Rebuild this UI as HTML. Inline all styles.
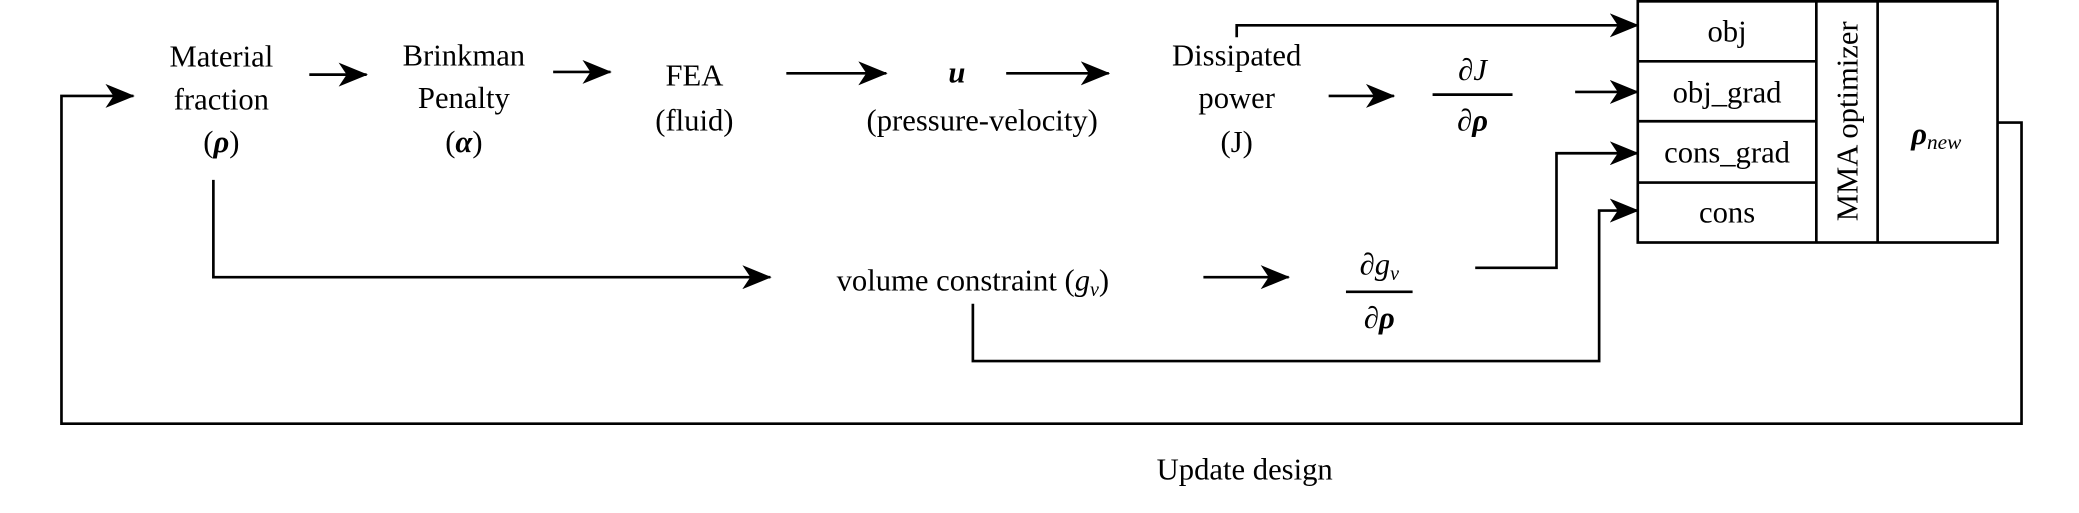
<!DOCTYPE html>
<html><head><meta charset="utf-8"><style>
html,body{margin:0;padding:0;background:#fff;}
svg{display:block;}
svg text{font-family:"Liberation Serif","Times New Roman","DejaVu Serif",serif;font-size:23px;fill:#000;}
</style></head><body>
<svg width="2079" height="513" viewBox="0 0 1560 385" xmlns="http://www.w3.org/2000/svg" font-family="Liberation Serif, Times New Roman, serif">
<defs>
<marker id="b" markerWidth="22" markerHeight="18" refX="21" refY="9" orient="auto" markerUnits="userSpaceOnUse"><path d="M0,0 L22,9 L0,18 L6,9 Z" fill="#000"/></marker></defs>
<g stroke="#000" stroke-width="2" fill="none">
<polyline points="1499,92 1517,92 1517,318 46,318 46,72 100,72" marker-end="url(#b)"/>
<line x1="232" y1="56" x2="275" y2="56" marker-end="url(#b)"/>
<line x1="415" y1="54" x2="458" y2="54" marker-end="url(#b)"/>
<line x1="590" y1="55" x2="665" y2="55" marker-end="url(#b)"/>
<line x1="755" y1="55" x2="832" y2="55" marker-end="url(#b)"/>
<polyline points="928,28 928,19 1229,19" marker-end="url(#b)"/>
<line x1="997" y1="72" x2="1046" y2="72" marker-end="url(#b)"/>
<line x1="1182" y1="69" x2="1229" y2="69" marker-end="url(#b)"/>
<polyline points="160,135 160,208 578,208" marker-end="url(#b)"/>
<line x1="903" y1="208" x2="967" y2="208" marker-end="url(#b)"/>
<polyline points="1107,201 1168,201 1168,115 1229,115" marker-end="url(#b)"/>
<polyline points="730,228 730,271 1200,271 1200,158 1229,158" marker-end="url(#b)"/>
<rect x="1229" y="1" width="270" height="181"/>
<line x1="1363" y1="1" x2="1363" y2="182"/>
<line x1="1409" y1="1" x2="1409" y2="182"/>
<line x1="1229" y1="46" x2="1363" y2="46"/>
<line x1="1229" y1="91" x2="1363" y2="91"/>
<line x1="1229" y1="137" x2="1363" y2="137"/>
<line x1="1075" y1="71" x2="1135" y2="71"/>
<line x1="1010" y1="219" x2="1060" y2="219"/>
</g>
<g text-anchor="middle">
<text x="166" y="50">Material</text>
<text x="166" y="82">fraction</text>
<text x="166" y="114">(<tspan font-weight="bold" font-style="italic">ρ</tspan>)</text>
<text x="348" y="49">Brinkman</text>
<text x="348" y="81">Penalty</text>
<text x="348" y="114">(<tspan font-weight="bold" font-style="italic">α</tspan>)</text>
<text x="521" y="64">FEA</text>
<text x="521" y="98">(fluid)</text>
<text x="718" y="62" font-weight="bold" font-style="italic">u</text>
<text x="737" y="98">(pressure-velocity)</text>
<text x="928" y="49">Dissipated</text>
<text x="928" y="81">power</text>
<text x="928" y="114">(J)</text>
<text x="1105" y="60">∂<tspan font-style="italic">J</tspan></text>
<text x="1105" y="98">∂<tspan font-weight="bold" font-style="italic">ρ</tspan></text>
<text x="730" y="218">volume constraint (<tspan font-style="italic">g</tspan><tspan font-style="italic" font-size="15" dy="4">v</tspan><tspan dy="-4">)</tspan></text>
<text x="1035" y="206">∂<tspan font-style="italic">g</tspan><tspan font-style="italic" font-size="15" dy="4">v</tspan></text>
<text x="1035" y="246">∂<tspan font-weight="bold" font-style="italic">ρ</tspan></text>
<text x="1296" y="31">obj</text>
<text x="1296" y="77">obj_grad</text>
<text x="1296" y="122">cons_grad</text>
<text x="1296" y="167">cons</text>
<text x="1394" y="91" transform="rotate(-90 1394 91)">MMA optimizer</text>
<text x="1453" y="108"><tspan font-weight="bold" font-style="italic">ρ</tspan><tspan font-style="italic" font-size="16" dy="4">new</tspan></text>
<text x="934" y="360">Update design</text>
</g>
</svg>
</body></html>
